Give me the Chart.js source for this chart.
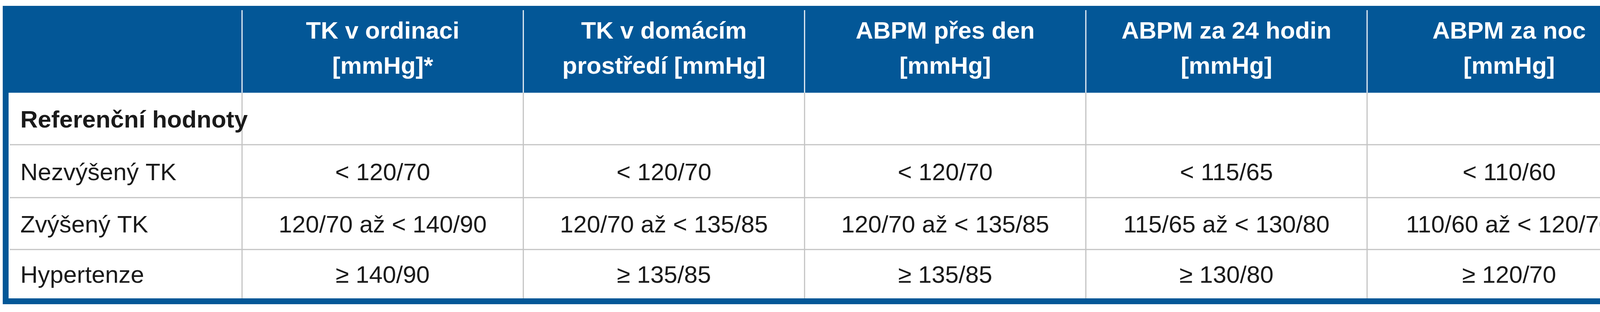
<!DOCTYPE html>
<html><head><meta charset="utf-8">
<script src="https://cdn.jsdelivr.net/npm/chart.js@4/dist/chart.umd.min.js"></script>
<style>html,body{margin:0;padding:0;background:#fff;overflow:hidden}</style>
</head><body>
<canvas id="c" width="4262" height="800"></canvas>
<script>
const headers = [["", ""], ["TK v ordinaci", "[mmHg]*"], ["TK v domácím", "prostředí [mmHg]"], ["ABPM přes den", "[mmHg]"], ["ABPM za 24 hodin", "[mmHg]"], ["ABPM za noc", "[mmHg]"]];
const rowLabels = ["Referenční hodnoty", "Nezvýšený TK", "Zvýšený TK", "Hypertenze"];
const ordinace = ["", "< 120/70", "120/70 až < 140/90", "≥ 140/90"];
const domaci = ["", "< 120/70", "120/70 až < 135/85", "≥ 135/85"];
const den = ["", "< 120/70", "120/70 až < 135/85", "≥ 135/85"];
const hodin24 = ["", "< 115/65", "115/65 až < 130/80", "≥ 130/80"];
const noc = ["", "< 110/60", "110/60 až < 120/70", "≥ 120/70"];
const columns = [ordinace, domaci, den, hodin24, noc];

const BLUE = '#035797';
const FONT = '"Liberation Sans Narrow", "Liberation Sans", sans-serif';
// column edges in x-units, row edges in y-units
const colEdges = [0, 0.83, 1.83, 2.83, 3.83, 4.83, 5.84];
const rowEdges = [0, 1.69, 2.70, 3.73, 4.74, 5.69];

const tablePlugin = {
  id: 'table',
  afterDraw(chart) {
    const ctx = chart.ctx, xs = chart.scales.x, ys = chart.scales.y;
    const X = v => xs.getPixelForValue(v), Y = v => ys.getPixelForValue(v);
    const L = X(0), R = X(colEdges[colEdges.length-1]), T = Y(0), B = Y(rowEdges[rowEdges.length-1]);
    ctx.save();
    // outer blue frame
    ctx.fillStyle = BLUE;
    ctx.fillRect(L - 15, T, R - L + 30, B - T + 15);
    ctx.fillStyle = '#fff';
    ctx.fillRect(L, Y(rowEdges[1]), R - L, B - Y(rowEdges[1]));
    // header dividers
    ctx.strokeStyle = '#e8eef5'; ctx.lineWidth = 3;
    for (let i = 1; i < colEdges.length - 1; i++) {
      ctx.beginPath(); ctx.moveTo(X(colEdges[i]), T + 11); ctx.lineTo(X(colEdges[i]), Y(rowEdges[1])); ctx.stroke();
    }
    // body grid
    ctx.strokeStyle = '#c4c4c4'; ctx.lineWidth = 3;
    for (let i = 1; i < colEdges.length - 1; i++) {
      ctx.beginPath(); ctx.moveTo(X(colEdges[i]), Y(rowEdges[1])); ctx.lineTo(X(colEdges[i]), B); ctx.stroke();
    }
    for (let j = 2; j < rowEdges.length - 1; j++) {
      ctx.beginPath(); ctx.moveTo(L + 3, Y(rowEdges[j])); ctx.lineTo(R, Y(rowEdges[j])); ctx.stroke();
    }
    // header text
    ctx.fillStyle = '#fff'; ctx.textAlign = 'center'; ctx.textBaseline = 'middle';
    ctx.font = 'bold 62px ' + FONT;
    const hy = (Y(0) + Y(rowEdges[1])) / 2;
    headers.forEach((h, i) => {
      const cx = (X(colEdges[i]) + X(colEdges[i+1])) / 2;
      ctx.fillText(h[0], cx, hy - 44);
      ctx.fillText(h[1], cx, hy + 46);
    });
    // body
    ctx.fillStyle = '#1a1a1a';
    rowLabels.forEach((lab, r) => {
      const cy = (Y(rowEdges[r+1]) + Y(rowEdges[r+2])) / 2 + 6;
      ctx.textAlign = 'left';
      ctx.font = (r === 0 ? 'bold ' : '') + '62px ' + FONT;
      ctx.fillText(lab, L + 30, cy);
      ctx.font = '62px ' + FONT; ctx.textAlign = 'center';
      columns.forEach((col, c) => {
        const cx = (X(colEdges[c+1]) + X(colEdges[c+2])) / 2;
        ctx.fillText(col[r], cx, cy);
      });
    });
    ctx.restore();
  }
};

new Chart(document.getElementById('c'), {
  type: 'scatter',
  data: { datasets: [{ data: [] }] },
  options: {
    responsive: false, animation: false, devicePixelRatio: 1,
    layout: { padding: { left: 22, right: 35, top: 15, bottom: 35 } },
    plugins: { legend: { display: false }, tooltip: { enabled: false } },
    scales: {
      x: { type: 'linear', min: 0, max: colEdges[colEdges.length-1], display: false },
      y: { type: 'linear', min: 0, max: rowEdges[rowEdges.length-1], reverse: true, display: false }
    }
  },
  plugins: [tablePlugin]
});
</script>
</body></html>
